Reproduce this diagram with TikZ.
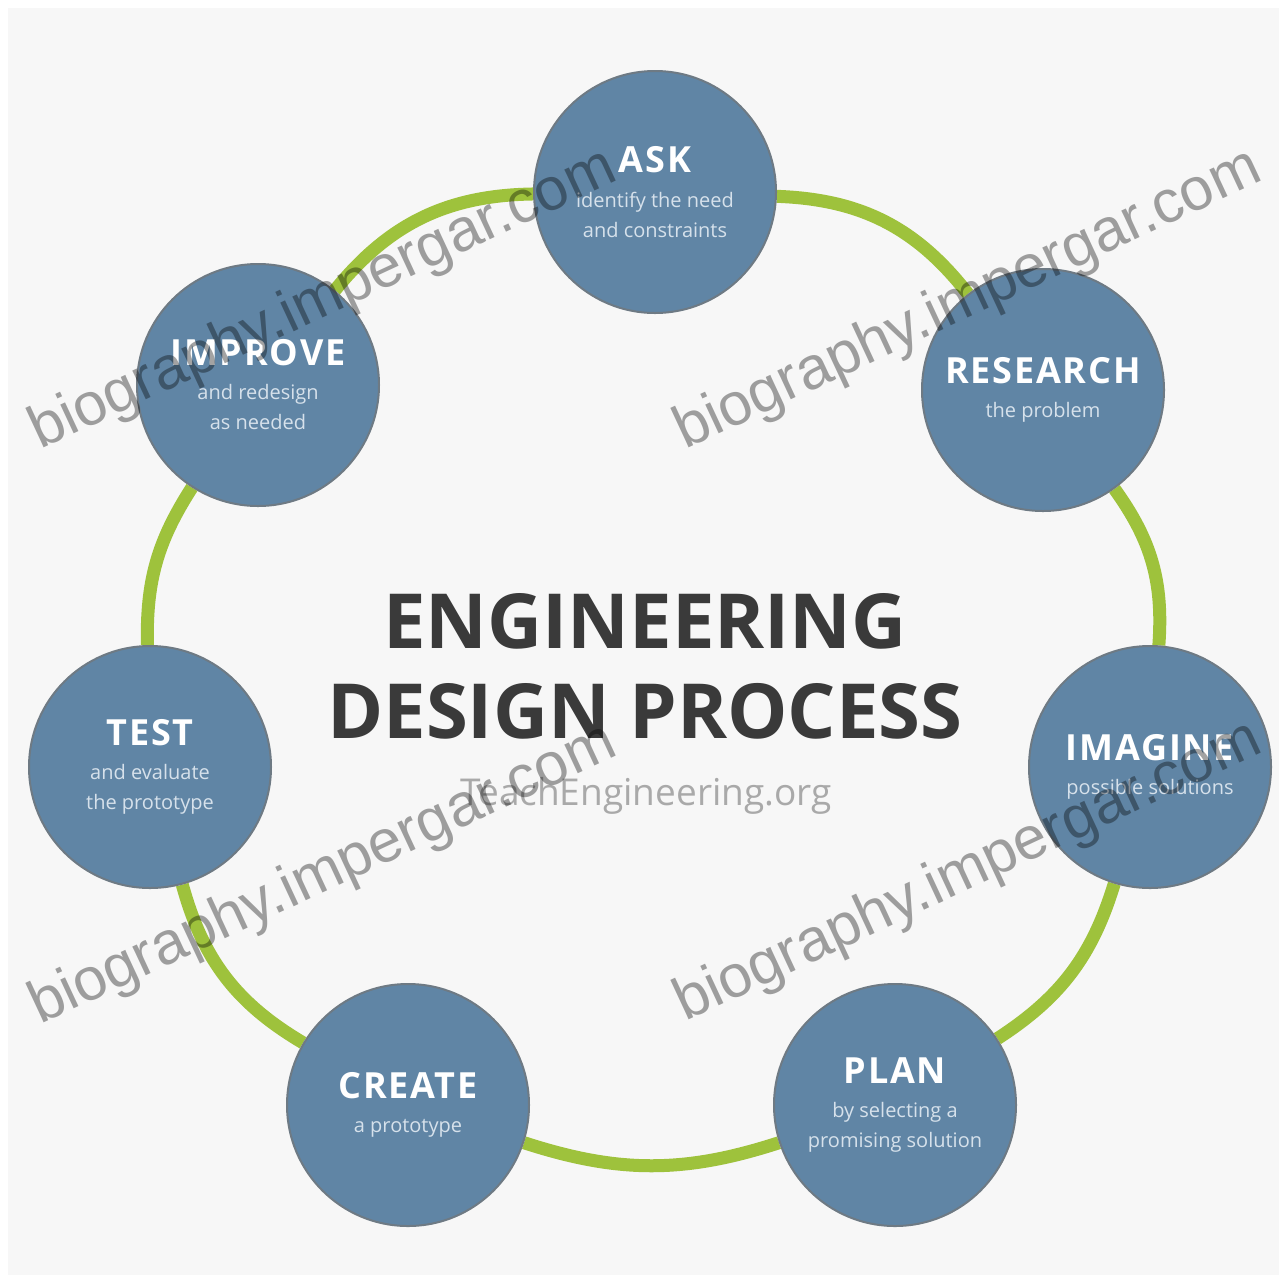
\documentclass[tikz,border=0pt]{standalone}
\usepackage{fontspec}
\setmainfont{Open Sans}
\newfontfamily\wmfont{Liberation Sans}
\usetikzlibrary{backgrounds}
\definecolor{bgcol}{HTML}{F7F7F7}
\definecolor{stageblue}{HTML}{6085A5}
\definecolor{rimgray}{HTML}{6E7A84}
\definecolor{ringgreen}{HTML}{9EC23C}
\definecolor{subtxt}{HTML}{D6E1EB}
\definecolor{titletxt}{HTML}{3A3A3A}
\definecolor{urltxt}{HTML}{A9A9A9}
\newcommand{\sttitle}[1]{{\fontsize{36}{40}\selectfont\bfseries\addfontfeatures{LetterSpace=5}#1}}
\newcommand{\stsub}[1]{{\color{subtxt}#1}}
\tikzset{
  stage/.style={circle, fill=stageblue, draw=rimgray, line width=2pt,
    minimum size=242pt, inner sep=0pt, align=center, text=white,
    font=\fontsize{20}{30}\selectfont},
  ring/.style={draw=ringgreen, line width=13pt},
  bigtitle/.style={anchor=base, text=titletxt, font=\fontsize{76}{90}\selectfont\bfseries},
  urlstyle/.style={anchor=base, text=urltxt, font=\fontsize{37}{40}\selectfont},
  watermark/.style={anchor=base west, rotate=25, inner sep=0pt,
    font=\wmfont\fontsize{60}{60}\selectfont, text=black, text opacity=0.36}
}
\begin{document}
\begin{tikzpicture}[x=1pt,y=-1pt]
\useasboundingbox (0,0) rectangle (1287,1283);

\node[stage] (ask) at (655,192) {\sttitle{ASK}\\[5pt]\stsub{identify the need}\\\stsub{and constraints}};
\node[stage] (research) at (1043,390) {\sttitle{RESEARCH}\\[4pt]\stsub{the problem}};
\node[stage] (imagine) at (1150,767) {\sttitle{IMAGINE}\\[4pt]\stsub{possible solutions}};
\node[stage] (plan) at (895,1105) {\sttitle{PLAN}\\[4pt]\stsub{by selecting a}\\\stsub{promising solution}};
\node[stage] (create) at (408,1105) {\sttitle{CREATE}\\[4pt]\stsub{a prototype}};
\node[stage] (test) at (150,767) {\sttitle{TEST}\\[4pt]\stsub{and evaluate}\\\stsub{the prototype}};
\node[stage] (improve) at (258,385) {\sttitle{IMPROVE}\\[4pt]\stsub{and redesign}\\\stsub{as needed}};

\begin{pgfonlayer}{background}
  \fill[white] (0,0) rectangle (1287,1283);
  \fill[bgcol] (8,8) rectangle (1279,1275);
  \draw[ring] (ask) to[bend left=25] (research);
  \draw[ring] (research) to[bend left=20] (imagine);
  \draw[ring] (imagine) to[bend left=20] (plan);
  \draw[ring] (plan) to[bend left=18] (create);
  \draw[ring] (create) to[bend left=22] (test);
  \draw[ring] (test) to[bend left=17] (improve);
  \draw[ring] (improve) to[bend left=25] (ask);
\end{pgfonlayer}

\node[bigtitle] (titleA) at (645,648) {ENGINEERING};
\node[bigtitle] (titleB) at (645,738) {DESIGN PROCESS};
\node[urlstyle] (url) at (646,805) {TeachEngineering.org};

\node[watermark] (wm1) at (40,450) {biography.impergar.com};
\node[watermark] (wm2) at (685,450) {biography.impergar.com};
\node[watermark] (wm3) at (40,1025) {biography.impergar.com};
\node[watermark] (wm4) at (685,1022) {biography.impergar.com};
\end{tikzpicture}
\end{document}
